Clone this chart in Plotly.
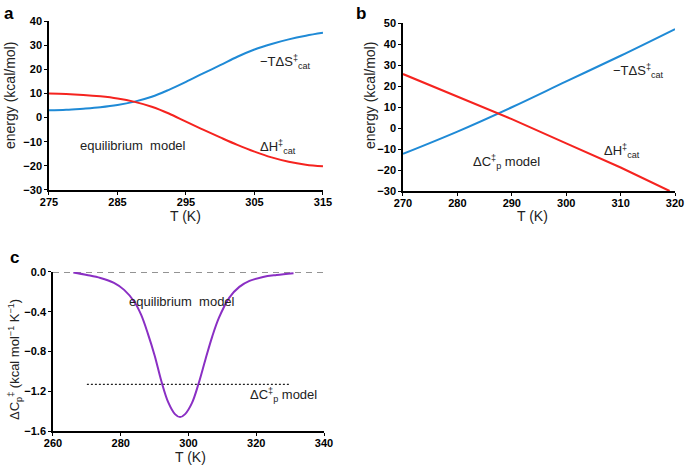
import plotly.graph_objects as go

# ---- Panel a: equilibrium model ----
a_T = [275, 277.5, 280, 282.5, 285, 287.5, 290, 292.5, 295, 297.5, 300, 302.5, 305, 307.5, 310, 312.5, 315]
a_minus_TdS = [3.0, 3.2, 3.7, 4.3, 5.2, 6.6, 8.6, 11.5, 14.8, 18.3, 21.7, 25.2, 28.2, 30.5, 32.4, 33.9, 35.1]
a_dH = [10.0, 9.8, 9.4, 8.8, 7.9, 6.5, 4.5, 1.7, -1.7, -5.0, -8.2, -11.3, -14.1, -16.5, -18.3, -19.5, -20.2]

# ---- Panel b: dCp model ----
b_T = [270, 280, 290, 300, 310, 320]
b_minus_TdS = [-12.3, -1.7, 9.9, 22.2, 34.4, 47.1]
b_T_dH = [270, 280, 290, 300, 310, 319]
b_dH = [25.7, 15.0, 4.2, -7.3, -18.8, -30.0]

# ---- Panel c: dCp ----
c_T = [266, 270, 274, 278, 281, 284, 286, 288, 290, 292, 294, 296, 297.5, 299, 301, 303, 305, 307, 309, 312, 315, 318, 322, 326, 331]
c_dCp = [-0.005, -0.03, -0.06, -0.11, -0.18, -0.30, -0.43, -0.62, -0.84, -1.10, -1.31, -1.43, -1.46, -1.43, -1.32, -1.12, -0.88, -0.65, -0.46, -0.26, -0.15, -0.09, -0.05, -0.03, -0.012]
c_model_T = [270, 330]
c_model_dCp = [-1.13, -1.13]
c_zero_T = [260, 340]
c_zero = [0, 0]

BLUE = "#1f8ad6"
RED = "#f5231f"
PURPLE = "#8a2fc4"
FONT = "Liberation Sans, Arial, sans-serif"

fig = go.Figure()
fig.add_trace(go.Scatter(x=a_T, y=a_minus_TdS, mode="lines", line=dict(color=BLUE, width=2, shape="spline"), xaxis="x", yaxis="y"))
fig.add_trace(go.Scatter(x=a_T, y=a_dH, mode="lines", line=dict(color=RED, width=2, shape="spline"), xaxis="x", yaxis="y"))
fig.add_trace(go.Scatter(x=b_T, y=b_minus_TdS, mode="lines", line=dict(color=BLUE, width=2, shape="spline"), xaxis="x2", yaxis="y2"))
fig.add_trace(go.Scatter(x=b_T_dH, y=b_dH, mode="lines", line=dict(color=RED, width=2), xaxis="x2", yaxis="y2"))
fig.add_trace(go.Scatter(x=c_zero_T, y=c_zero, mode="lines", line=dict(color="#707070", width=1.3, dash="6px,5px"), xaxis="x3", yaxis="y3"))
fig.add_trace(go.Scatter(x=c_model_T, y=c_model_dCp, mode="lines", line=dict(color="#222222", width=1.2, dash="2px,2px"), xaxis="x3", yaxis="y3"))
fig.add_trace(go.Scatter(x=c_T, y=c_dCp, mode="lines", line=dict(color=PURPLE, width=2, shape="spline"), xaxis="x3", yaxis="y3"))

tickfont = dict(family=FONT, size=11, color="black", weight="bold")
common = dict(showline=True, linecolor="black", linewidth=1.5, ticks="outside", ticklen=3,
              tickcolor="black", tickwidth=1.2, showgrid=False, zeroline=False, tickfont=tickfont,
              automargin=False)
xcommon = dict(common, ticklabelstandoff=-2)

fig.update_layout(
    width=691, height=465, margin=dict(l=0, r=0, t=0, b=0),
    paper_bgcolor="white", plot_bgcolor="white", showlegend=False,
    font=dict(family=FONT),
    xaxis=dict(domain=[0.0709, 0.4674], range=[275, 315], tick0=275, dtick=10, anchor="y", **xcommon),
    yaxis=dict(domain=[0.5914, 0.9548], range=[-30, 40], dtick=10, anchor="x", **common),
    xaxis2=dict(domain=[0.5832, 0.9769], range=[270, 320], dtick=10, anchor="y2", **xcommon),
    yaxis2=dict(domain=[0.5892, 0.9505], range=[-30, 50], dtick=10, anchor="x2", **common),
    xaxis3=dict(domain=[0.0767, 0.4689], range=[260, 340], dtick=20, anchor="y3", **xcommon),
    yaxis3=dict(domain=[0.0731, 0.4151], range=[-1.6, 0], dtick=0.4, tickformat=".1f", anchor="x3", **common),
)

W, H = 691, 465
title_font = dict(family=FONT, size=14, color="#222")
# axis titles (pixel positions converted to paper coords)
titles = [
    ("T (K)", 186, 216, 0),
    ("energy (kcal/mol)", 10, 96, -90),
    ("T (K)", 532, 216, 0),
    ("energy (kcal/mol)", 370, 96, -90),
    ("T (K)", 190, 457, 0),
    ("ΔC<sub>p</sub><sup>‡</sup> (kcal mol<sup>−1</sup> K<sup>−1</sup>)", 15, 360, -90),
]
for t, px, py, ang in titles:
    fig.add_annotation(text=t, x=px / W, y=1 - py / H, xref="paper", yref="paper",
                       xanchor="center", yanchor="middle", textangle=ang, showarrow=False,
                       font=title_font if "C<sub>" not in t else dict(family=FONT, size=13, color="#222"))

ann_font = dict(family=FONT, size=13, color="#222")
anns = [
    dict(x=287.3, y=-11.4, xref="x", yref="y", text="equilibrium  model"),
    dict(x=309.5, y=23, xref="x", yref="y", text="−TΔS<sup>‡</sup><sub>cat</sub>"),
    dict(x=308.5, y=-12, xref="x", yref="y", text="ΔH<sup>‡</sup><sub>cat</sub>"),
    dict(x=289, y=-16, xref="x2", yref="y2", text="ΔC<sup>‡</sup><sub>p</sub> model"),
    dict(x=313.3, y=27, xref="x2", yref="y2", text="−TΔS<sup>‡</sup><sub>cat</sub>"),
    dict(x=310.2, y=-11, xref="x2", yref="y2", text="ΔH<sup>‡</sup><sub>cat</sub>"),
    dict(x=298, y=-0.3, xref="x3", yref="y3", text="equilibrium  model"),
    dict(x=328, y=-1.24, xref="x3", yref="y3", text="ΔC<sup>‡</sup><sub>p</sub> model"),
]
for a in anns:
    fig.add_annotation(showarrow=False, font=ann_font, **a)

lab_font = dict(family=FONT, size=17, color="black", weight="bold")
for t, x, y in [("a", 0.003, 0.995), ("b", 0.513, 0.995), ("c", 0.012, 0.47)]:
    fig.add_annotation(text=t, x=x, y=y, xref="paper", yref="paper", xanchor="left", yanchor="top",
                       showarrow=False, font=lab_font)

fig.write_html("out.html", config={"displayModeBar": False},
               post_script="document.body.style.margin='0';document.body.style.overflow='hidden';")
